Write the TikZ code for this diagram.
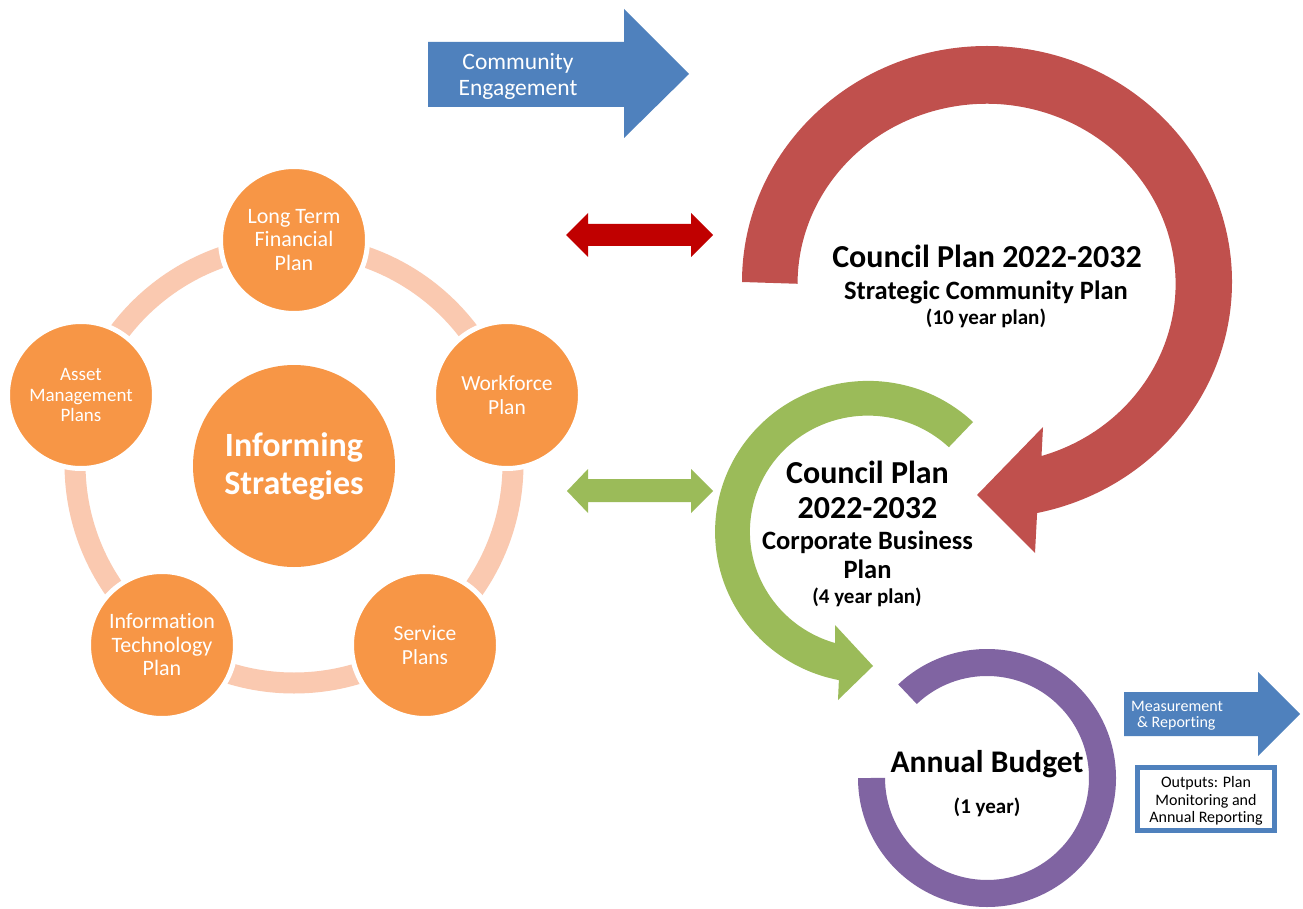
\documentclass[tikz,border=0pt]{standalone}
\usepackage{fontspec}
\setmainfont{Carlito}[Ligatures={NoCommon}]
\definecolor{ceblue}{HTML}{4F81BD}
\definecolor{ringred}{HTML}{C0504D}
\definecolor{darkred}{HTML}{C00000}
\definecolor{ringgreen}{HTML}{9BBB59}
\definecolor{ringpurple}{HTML}{8064A2}
\definecolor{orng}{HTML}{F79646}
\definecolor{peach}{RGB}{250,201,176}
\tikzset{
  satellite/.style={circle, fill=orng, draw=white, line width=5pt, minimum size=147pt, inner sep=0pt, align=center, text=white},
  sattext/.style={font=\fontsize{22}{23.5}\selectfont},
  hub/.style={circle, fill=orng, minimum size=202pt, inner sep=0pt, align=center, text=white, font=\bfseries\fontsize{34}{38}\selectfont},
  bline/.style={inner sep=0pt, anchor=base},
  titlefont/.style={font=\bfseries\fontsize{32}{35}\selectfont},
  subfont/.style={font=\bfseries\fontsize{26.5}{29}\selectfont},
  smallfont/.style={font=\bfseries\fontsize{21}{24}\selectfont},
  blockarrow/.style={fill=ceblue, draw=none},
}
\begin{document}
\begin{tikzpicture}[x=1pt,y=-1pt]
\useasboundingbox (0,0) rectangle (1303,909);
\fill[white] (0,0) rectangle (1303,909);

% ---------- Informing strategies cluster ----------
\draw[peach, line width=21pt] (294,464) circle (219);
\node[hub] (hub) at (294,466) {Informing\\Strategies};
\node[satellite, sattext] (ltfp) at (294,240) {Long Term\\Financial\\Plan};
\node[satellite, font=\fontsize{19}{20.5}\selectfont] (amp) at (81,395) {Asset\\Management\\Plans};
\node[satellite, font=\fontsize{21.5}{23.5}\selectfont] (wfp) at (507,395) {Workforce\\Plan};
\node[satellite, sattext] (itp) at (162,645) {Information\\Technology\\Plan};
\node[satellite, font=\fontsize{21.5}{23.5}\selectfont] (svp) at (425,645) {Service\\Plans};

% ---------- Community engagement arrow ----------
\fill[blockarrow] (428,42) -- (624,42) -- (624,9) -- (689,74) -- (624,138) -- (624,107) -- (428,107) -- cycle;
\node[inner sep=0pt, align=center, text=white, font=\fontsize{23.5}{26}\selectfont] (ce) at (518,76.5) {Community\\Engagement};

% ---------- double arrows ----------
\fill[darkred] (566,235) -- (588,213) -- (588,224) -- (691,224) -- (691,213) -- (713,235) -- (691,257) -- (691,246) -- (588,246) -- (588,257) -- cycle;
\fill[ringgreen] (567,491) -- (588,469) -- (588,479) -- (691,479) -- (691,469) -- (713,491) -- (691,513) -- (691,502) -- (588,502) -- (588,513) -- cycle;

% ---------- red ring ----------
\fill[ringred] (742,282) arc[start angle=180, end angle=438.2, x radius=245, y radius=236]
  -- (1035,553) -- (977,495) -- (1043,427) -- (1041.5,456)
  arc[start angle=433.1, end angle=180, x radius=189, y radius=180] -- cycle;
\node[bline, titlefont] (cp1) at (987,268) {Council Plan 2022-2032};
\node[bline, subfont] (scp) at (986,299) {Strategic Community Plan};
\node[bline, smallfont] (ten) at (986,324) {(10 year plan)};

% ---------- green ring ----------
\fill[ringgreen] (973,422) arc[start angle=313.3, end angle=101, x radius=153, y radius=151]
  -- (838,700) -- (873,666) -- (835,625) -- (835,643)
  arc[start angle=106.2, end angle=313.3, x radius=118, y radius=116] -- cycle;
\node[bline, titlefont] (cp2a) at (867.5,483) {Council Plan};
\node[bline, titlefont] (cp2b) at (867.5,518) {2022-2032};
\node[bline, subfont] (cbp1) at (867.5,549) {Corporate Business};
\node[bline, subfont] (cbp2) at (867.5,578) {Plan};
\node[bline, smallfont] (four) at (867,603) {(4 year plan)};

% ---------- purple ring ----------
\fill[ringpurple] (858,778) arc[start angle=180, end angle=-133.5, radius=129]
  -- (916.8,704) arc[start angle=-133.5, end angle=180, radius=102] -- cycle;
\node[bline, font=\bfseries\fontsize{31.5}{34}\selectfont] (ab) at (987,772) {Annual Budget};
\node[bline, smallfont] (oneyr) at (987,813) {(1 year)};

% ---------- measurement arrow ----------
\fill[blockarrow] (1124,692) -- (1258,692) -- (1258,672) -- (1300,714) -- (1258,756) -- (1258,736) -- (1124,736) -- cycle;
\node[inner sep=0pt, anchor=base west, text=white, font=\fontsize{16}{18}\selectfont] (meas) at (1131,711) {Measurement};
\node[inner sep=0pt, anchor=base west, text=white, font=\fontsize{16}{18}\selectfont] (rep) at (1137,727) {\& Reporting};

% ---------- outputs box ----------
\draw[ceblue, line width=5pt, fill=white] (1137.5,767.5) rectangle (1274.5,830.5);
\node[inner sep=0pt, align=center, font=\fontsize{16}{17.5}\selectfont] (outp) at (1206,801) {Outputs: Plan\\Monitoring and\\Annual Reporting};
\end{tikzpicture}
\end{document}
